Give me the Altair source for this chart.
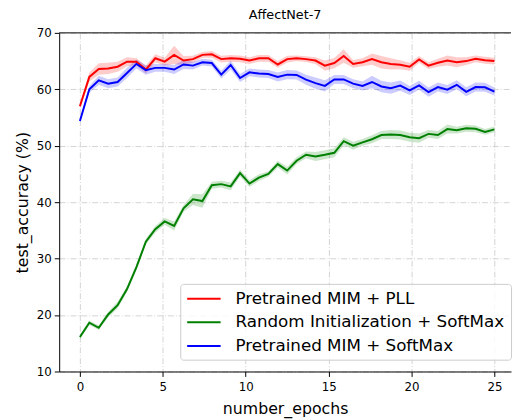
import altair as alt
import pandas as pd

series_names = ["Pretrained MIM + PLL", "Random Initialization + SoftMax", "Pretrained MIM + SoftMax"]
series_colors = ["#ff0000", "#008000", "#0000ff"]

epochs = [0.0, 0.568, 1.136, 1.705, 2.273, 2.841, 3.409, 3.977, 4.545, 5.114,
          5.682, 6.25, 6.818, 7.386, 7.955, 8.523, 9.091, 9.659, 10.227, 10.795,
          11.364, 11.932, 12.5, 13.068, 13.636, 14.205, 14.773, 15.341, 15.909, 16.477,
          17.045, 17.614, 18.182, 18.75, 19.318, 19.886, 20.455, 21.023, 21.591, 22.159,
          22.727, 23.295, 23.864, 24.432, 25.0]

pll_acc = [57.0, 62.2, 63.6, 63.7, 64.0, 64.9, 64.9, 63.5, 65.5, 64.9,
           66.1, 65.1, 65.35, 66.1, 66.2, 65.35, 65.5, 65.4, 65.1, 65.5,
           65.5, 64.4, 65.35, 65.5, 65.35, 65.1, 64.2, 64.65, 65.9, 64.5,
           64.8, 65.35, 64.8, 64.5, 64.35, 64.0, 65.3, 64.2, 64.7, 65.1,
           64.8, 65.0, 65.4, 65.15, 65.0]
pll_err = [0.4, 0.8, 1.0, 1.0, 0.9, 0.8, 0.6, 0.7, 0.7, 0.7,
           1.6, 0.8, 0.6, 0.5, 0.6, 0.6, 0.6, 0.6, 0.6, 0.6,
           0.6, 0.6, 0.6, 0.5, 0.5, 0.6, 0.9, 0.9, 1.2, 0.7,
           0.7, 1.0, 1.1, 1.0, 0.8, 0.7, 0.6, 0.6, 0.7, 0.9,
           0.9, 0.7, 0.6, 0.6, 0.6]

rand_acc = [16.1, 18.65, 17.75, 20.1, 21.75, 24.6, 28.5, 33.0, 35.2, 36.6,
            35.8, 38.9, 40.5, 40.2, 43.0, 43.2, 42.8, 45.15, 43.3, 44.35,
            45.0, 46.75, 45.6, 47.35, 48.4, 48.1, 48.4, 48.75, 50.8, 50.0,
            50.6, 51.15, 51.9, 52.0, 51.9, 51.5, 51.35, 52.1, 51.9, 52.95,
            52.75, 53.1, 53.0, 52.45, 52.9]
rand_err = [0.4, 0.4, 0.4, 0.5, 0.6, 0.5, 0.5, 0.5, 0.6, 0.6,
            0.8, 0.6, 1.0, 1.2, 0.6, 0.6, 0.7, 0.6, 0.6, 0.6,
            0.5, 0.6, 0.7, 0.6, 0.6, 0.8, 0.8, 0.8, 0.7, 0.7,
            0.6, 0.7, 0.7, 0.8, 0.8, 0.8, 0.8, 0.7, 0.7, 0.8,
            0.6, 0.6, 0.6, 0.5, 0.5]

soft_acc = [54.4, 60.0, 61.6, 61.0, 61.3, 62.9, 64.5, 63.4, 63.8, 63.8,
            63.5, 64.4, 64.2, 64.8, 64.65, 62.6, 64.3, 62.0, 63.0, 62.8,
            62.7, 62.2, 62.6, 62.55, 61.7, 61.1, 60.6, 61.75, 61.75, 61.0,
            60.6, 61.3, 60.5, 60.2, 60.65, 59.8, 60.7, 59.5, 60.4, 59.95,
            60.8, 59.55, 60.4, 60.35, 59.6]
soft_err = [0.3, 0.6, 0.8, 0.8, 0.8, 0.9, 0.8, 0.8, 0.7, 0.7,
            0.8, 0.8, 0.7, 0.6, 0.6, 0.7, 0.8, 0.7, 0.7, 0.7,
            0.7, 0.8, 0.8, 0.8, 0.9, 1.0, 1.0, 0.8, 0.8, 0.8,
            0.8, 1.1, 1.0, 1.0, 0.9, 0.8, 0.8, 0.8, 0.8, 0.8,
            0.8, 0.8, 0.8, 0.8, 0.7]

x_ticks = [0, 5, 10, 15, 20, 25]
y_ticks = [10, 20, 30, 40, 50, 60, 70]

rows = []
for name, acc, err in zip(series_names, [pll_acc, rand_acc, soft_acc], [pll_err, rand_err, soft_err]):
    for e, a, s in zip(epochs, acc, err):
        rows.append({"series": name, "band": name, "epoch": e, "acc": a, "lo": a - s, "hi": a + s})
df = pd.DataFrame(rows)

FONT = "DejaVu Sans"

xscale = alt.Scale(domain=[-1.25, 26.0], nice=False, zero=False)
yscale = alt.Scale(domain=[10, 70], nice=False, zero=False)

xaxis = alt.Axis(values=x_ticks, title="number_epochs", grid=True, labelPadding=5, titlePadding=9)
yaxis = alt.Axis(values=y_ticks, title="test_accuracy (%)", grid=True, labelPadding=3, titlePadding=6)

base = alt.Chart(df)

band = base.mark_area(opacity=0.2).encode(
    x=alt.X("epoch:Q", scale=xscale, axis=xaxis),
    y=alt.Y("lo:Q", scale=yscale, axis=yaxis),
    y2="hi:Q",
    fill=alt.Fill("band:N", scale=alt.Scale(domain=series_names, range=series_colors), legend=None),
    detail="band:N",
)

line = base.mark_line(strokeWidth=2).encode(
    x=alt.X("epoch:Q", scale=xscale),
    y=alt.Y("acc:Q", scale=yscale),
    color=alt.Color(
        "series:N",
        scale=alt.Scale(domain=series_names, range=series_colors),
        sort=series_names,
        legend=alt.Legend(
            title=None,
            orient="none",
            legendX=123,
            legendY=255,
            symbolType="M-1,0H3.25",
            symbolSize=256,
            symbolStrokeWidth=2,
            labelOffset=32,
            labelFontSize=17,
            labelFont=FONT,
            labelColor="#000000",
            labelLimit=0,
            rowPadding=7,
            padding=6,
            fillColor="rgba(255,255,255,0.8)",
            strokeColor="#cccccc",
            cornerRadius=3,
        ),
    ),
)

top_spine = alt.Chart(pd.DataFrame({"v": [70]})).mark_rule(color="#000000", strokeWidth=1).encode(
    y=alt.Y("v:Q", scale=yscale)
)

chart = alt.layer(band, line, top_spine).resolve_scale(fill="independent", color="independent").properties(
    width=459,
    height=344,
    title=alt.TitleParams("AffectNet-7", fontSize=13, font=FONT, fontWeight="normal", color="#000000", offset=5, anchor="middle"),
    autosize=alt.AutoSizeParams(type="none"),
    padding={"left": 52, "top": 22, "right": 2, "bottom": 46},
).configure_view(
    stroke=None
).configure_axis(
    domainColor="#000000",
    domainWidth=1,
    tickColor="#000000",
    tickSize=5,
    labelFont=FONT,
    labelFontSize=12,
    labelColor="#000000",
    titleFont=FONT,
    titleFontSize=16,
    titleFontWeight="normal",
    titleColor="#000000",
    gridColor="#c8c8c8",
    gridDash=[6, 2, 1, 2],
    gridWidth=0.8,
)

chart.save("out.html", embed_options={"renderer": "svg", "actions": False})
